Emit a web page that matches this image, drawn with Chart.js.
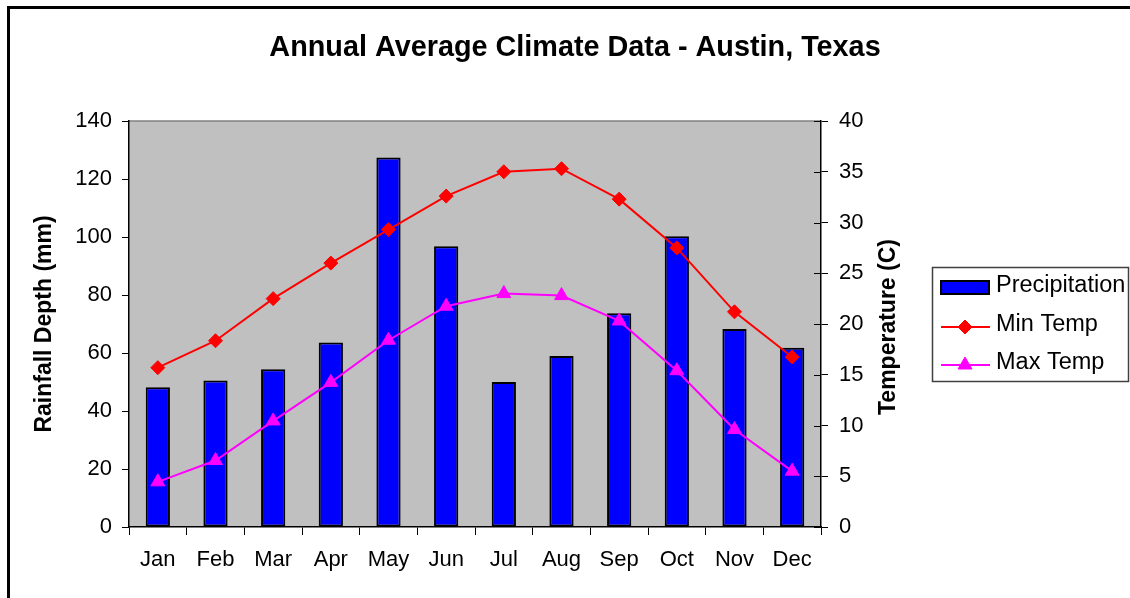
<!DOCTYPE html>
<html>
<head>
<meta charset="utf-8">
<script src="https://cdn.jsdelivr.net/npm/chart.js@4/dist/chart.umd.min.js"></script>
<style>
  html, body { margin: 0; padding: 0; background: #fff; }
  canvas { display: block; }
</style>
</head>
<body>
<canvas id="climateChart" width="1130" height="598"></canvas>
<script>
// values
const months = ['Jan', 'Feb', 'Mar', 'Apr', 'May', 'Jun', 'Jul', 'Aug', 'Sep', 'Oct', 'Nov', 'Dec'];
const precipitation = [48.2, 50.5, 54.4, 63.6, 127.4, 96.8, 50.0, 59.0, 73.7, 100.3, 68.3, 61.8];
const minTemp = [15.7, 18.35, 22.5, 26.0, 29.3, 32.6, 35.0, 35.3, 32.3, 27.5, 21.2, 16.75];
const maxTemp = [4.45, 6.55, 10.45, 14.25, 18.4, 21.75, 23.0, 22.8, 20.3, 15.4, 9.6, 5.5];
const rainTicks = [0, 20, 40, 60, 80, 100, 120, 140];
const tempTicks = [0, 5, 10, 15, 20, 25, 30, 35, 40];

const FONT = '"Liberation Sans", Arial, sans-serif';
Chart.defaults.font.family = FONT;
Chart.defaults.font.size = 22;
Chart.defaults.color = '#000';

// frame, grey plot area, title, right-hand axis title and legend
const decorations = {
    id: 'decorations',
    beforeDraw(chart) {
        const ctx = chart.ctx;
        const a = chart.chartArea;
        ctx.save();
        ctx.fillStyle = '#fff';
        ctx.fillRect(0, 0, chart.width, chart.height);
        ctx.fillStyle = '#c0c0c0';
        ctx.fillRect(a.left, a.top, a.right - a.left, a.bottom - a.top);
        ctx.strokeStyle = '#808080';
        ctx.lineWidth = 1.5;
        ctx.beginPath();
        ctx.moveTo(a.left, a.top);
        ctx.lineTo(a.right, a.top);
        ctx.stroke();
        ctx.restore();
    },
    afterDraw(chart) {
        const ctx = chart.ctx;
        const a = chart.chartArea;
        ctx.save();

        // outer frame
        ctx.fillStyle = '#000';
        ctx.fillRect(7, 6, chart.width - 7, 3);
        ctx.fillRect(7, 6, 3, chart.height - 6);

        // title
        ctx.font = 'bold 28.8px ' + FONT;
        ctx.textAlign = 'center';
        ctx.textBaseline = 'alphabetic';
        ctx.fillText('Annual Average Climate Data - Austin, Texas', 575, 56);

        // inner half of the right axis ticks
        const y1 = chart.scales.y1;
        ctx.strokeStyle = '#000';
        ctx.lineWidth = 1;
        y1.ticks.forEach(t => {
            const py = Math.round(y1.getPixelForValue(t.value)) + 0.5;
            ctx.beginPath();
            ctx.moveTo(a.right - 7, py);
            ctx.lineTo(a.right, py);
            ctx.stroke();
        });

        // right axis title, reading upward
        ctx.save();
        ctx.translate(895, (a.top + a.bottom) / 2 + 3);
        ctx.rotate(-Math.PI / 2);
        ctx.font = 'bold 23px ' + FONT;
        ctx.textAlign = 'center';
        ctx.fillText('Temperature (C)', 0, 0);
        ctx.restore();

        // legend
        ctx.strokeStyle = '#404040';
        ctx.lineWidth = 1.5;
        ctx.strokeRect(932.5, 267.5, 196, 114);
        ctx.font = '23.5px ' + FONT;
        ctx.textAlign = 'left';
        ctx.fillStyle = '#0000ff';
        ctx.fillRect(941, 281, 48, 13);
        ctx.strokeStyle = '#000';
        ctx.lineWidth = 2;
        ctx.strokeRect(941, 281, 48, 13);
        ctx.fillStyle = '#000';
        ctx.fillText('Precipitation', 996, 292);

        const items = [
            {label: 'Min Temp', color: '#ff0000', style: 'rectRot', r: 7, y: 327},
            {label: 'Max Temp', color: '#ff00ff', style: 'triangle', r: 8, y: 365}
        ];
        items.forEach(it => {
            ctx.strokeStyle = it.color;
            ctx.lineWidth = 2;
            ctx.beginPath();
            ctx.moveTo(941, it.y);
            ctx.lineTo(990, it.y);
            ctx.stroke();
            ctx.fillStyle = it.color;
            ctx.lineWidth = 1;
            Chart.helpers.drawPoint(ctx, {pointStyle: it.style, radius: it.r, rotation: 0, borderWidth: 1}, 965, it.y);
            ctx.fillStyle = '#000';
            ctx.fillText(it.label, 996, it.y + 4);
        });
        ctx.restore();
    }
};

new Chart(document.getElementById('climateChart'), {
    data: {
        labels: months,
        datasets: [
            {
                type: 'line',
                label: 'Min Temp',
                data: minTemp,
                yAxisID: 'y1',
                order: 0,
                borderColor: '#ff0000',
                backgroundColor: '#ff0000',
                borderWidth: 2,
                tension: 0,
                pointStyle: 'rectRot',
                pointRadius: 7,
                pointBorderWidth: 1
            },
            {
                type: 'line',
                label: 'Max Temp',
                data: maxTemp,
                yAxisID: 'y1',
                order: 0,
                borderColor: '#ff00ff',
                backgroundColor: '#ff00ff',
                borderWidth: 2,
                tension: 0,
                pointStyle: 'triangle',
                pointRadius: 8,
                pointBorderWidth: 1
            },
            {
                type: 'bar',
                label: 'Precipitation',
                data: precipitation,
                yAxisID: 'y',
                order: 1,
                backgroundColor: '#0000ff',
                borderColor: '#000',
                borderWidth: 2,
                borderSkipped: false,
                categoryPercentage: 1,
                barPercentage: 0.42
            }
        ]
    },
    options: {
        responsive: false,
        animation: false,
        events: [],
        layout: {
            padding: {top: 121, right: 230, bottom: 0, left: 0}
        },
        plugins: {
            legend: {display: false},
            tooltip: {enabled: false},
            title: {display: false}
        },
        scales: {
            x: {
                offset: true,
                grid: {
                    offset: true,
                    drawOnChartArea: false,
                    drawTicks: true,
                    tickLength: 8,
                    color: '#000'
                },
                border: {color: '#000', width: 1.5},
                ticks: {padding: 12, maxRotation: 0, autoSkip: false},
                afterFit(scale) { scale.height = 71; }
            },
            y: {
                position: 'left',
                min: 0,
                max: 140,
                afterBuildTicks(scale) { scale.ticks = rainTicks.map(v => ({value: v})); },
                grid: {drawOnChartArea: false, tickLength: 7, color: '#000'},
                border: {color: '#000', width: 1.5},
                ticks: {padding: 10},
                title: {
                    display: true,
                    text: 'Rainfall Depth (mm)',
                    font: {size: 23, weight: 'bold'},
                    padding: {top: 31, bottom: 0}
                },
                afterFit(scale) { scale.width = 129; }
            },
            y1: {
                position: 'right',
                min: 0,
                max: 40,
                afterBuildTicks(scale) { scale.ticks = tempTicks.map(v => ({value: v})); },
                grid: {drawOnChartArea: false, tickLength: 7, color: '#000'},
                border: {color: '#000', width: 1.5},
                ticks: {padding: 11},
                afterFit(scale) { scale.width = 79; }
            }
        }
    },
    plugins: [decorations]
});
</script>
</body>
</html>
